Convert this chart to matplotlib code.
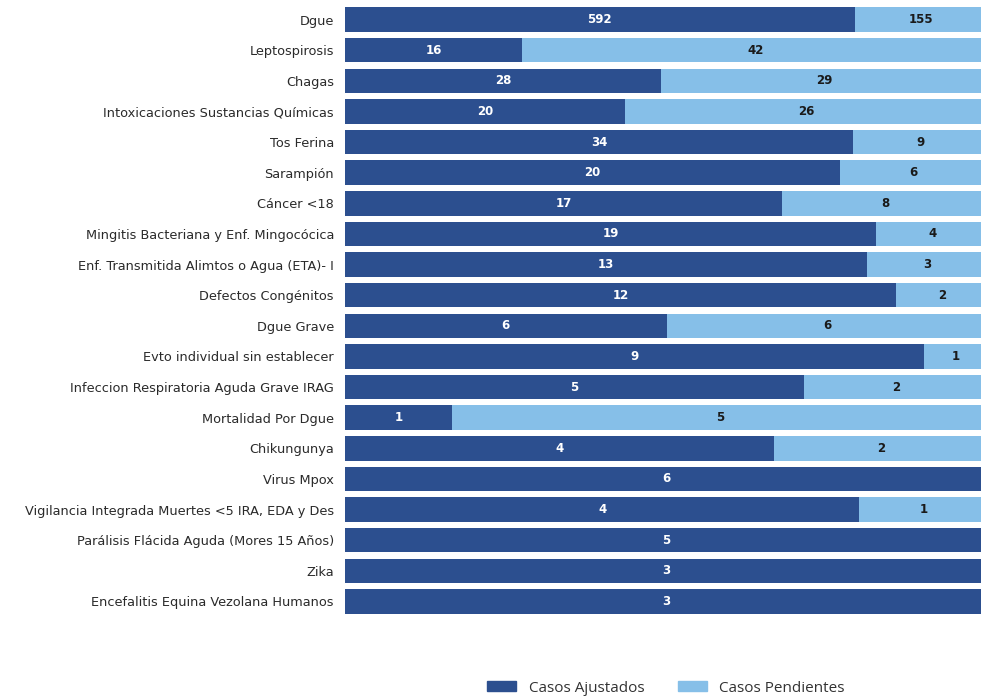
import matplotlib
matplotlib.use("Agg")
import matplotlib.pyplot as plt
import numpy as np
from matplotlib.patches import Patch

categories = [
    "Dgue", "Leptospirosis", "Chagas", "Intoxicaciones Sustancias Químicas",
    "Tos Ferina", "Sarampión", "Cáncer <18", "Mingitis Bacteriana y Enf. Mingocócica",
    "Enf. Transmitida Alimtos o Agua (ETA)- I", "Defectos Congénitos", "Dgue Grave",
    "Evto individual sin establecer", "Infeccion Respiratoria Aguda Grave IRAG",
    "Mortalidad Por Dgue", "Chikungunya", "Virus Mpox",
    "Vigilancia Integrada Muertes <5 IRA, EDA y Des",
    "Parálisis Flácida Aguda (Mores 15 Años)", "Zika",
    "Encefalitis Equina Vezolana Humanos",
]
ajustados = [592, 16, 28, 20, 34, 20, 17, 19, 13, 12, 6, 9, 5, 1, 4, 6, 4, 5, 3, 3]
pendientes = [155, 42, 29, 26, 9, 6, 8, 4, 3, 2, 6, 1, 2, 5, 2, 0, 1, 0, 0, 0]
series_names = ["Casos Ajustados", "Casos Pendientes"]

dark = "#2C4F8F"
light = "#86BFE8"

W, H = 981, 697
fig = plt.figure(figsize=(W / 100, H / 100), dpi=100)
ax = fig.add_axes([345 / W, (H - 616.8) / H, 643 / W, 612.6 / H])

a = np.array(ajustados, dtype=float)
p = np.array(pendientes, dtype=float)
tot = a + p
fa = a / tot
fp = p / tot
y = np.arange(len(categories))

ax.barh(y, fa, height=0.8, color=dark)
ax.barh(y, fp, left=fa, height=0.8, color=light)

for i in range(len(categories)):
    if a[i] > 0:
        ax.text(fa[i] / 2, y[i], f"{int(a[i])}", ha="center", va="center",
                color="white", fontsize=8.5, fontweight="bold")
    if p[i] > 0:
        ax.text(fa[i] + fp[i] / 2, y[i], f"{int(p[i])}", ha="center", va="center",
                color="#1a1a1a", fontsize=8.5, fontweight="bold")

ax.set_xlim(0, 1)
ax.set_ylim(len(categories) - 0.5, -0.5)
ax.set_yticks(y)
ax.set_yticklabels(categories, fontsize=9.3, color="#2a2a2a")
ax.set_xticks([])
ax.tick_params(axis="y", length=0, pad=8)
for s in ax.spines.values():
    s.set_visible(False)

handles = [Patch(color=dark), Patch(color=light)]
fig.legend(handles, series_names, loc="center", bbox_to_anchor=(666 / W, 9 / H),
           ncol=2, frameon=False, prop={"family": "Open Sans", "size": 11},
           handlelength=1.9, handleheight=0.6, handletextpad=0.8, columnspacing=2.2,
           labelcolor="#333333")

fig.savefig("out.png", dpi=100)
